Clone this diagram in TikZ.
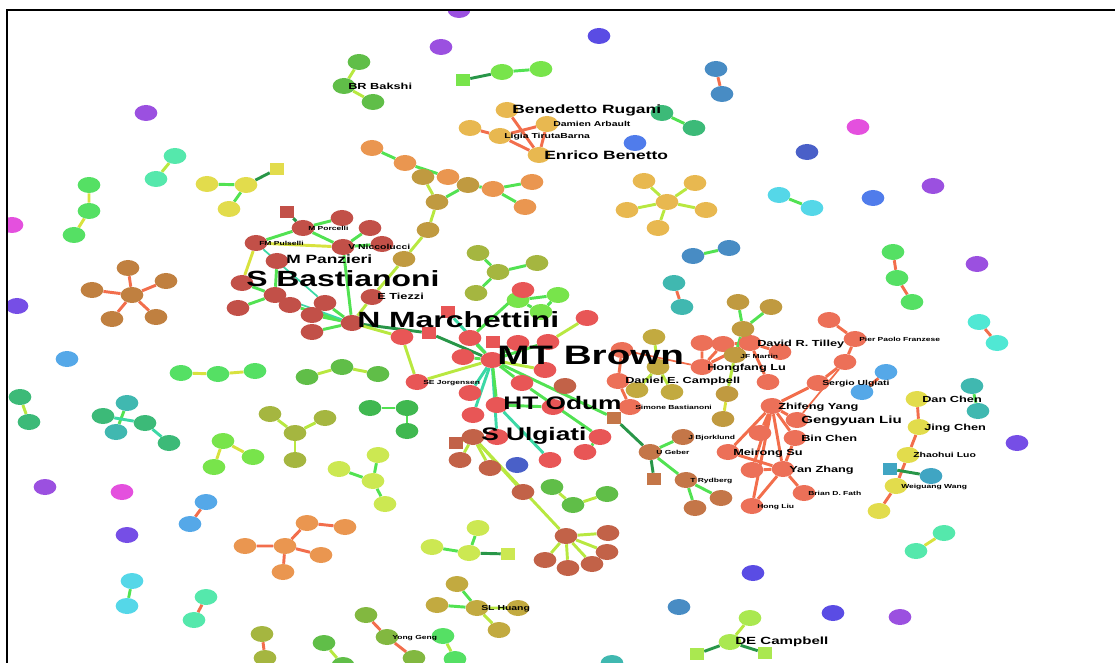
\documentclass[tikz,border=0pt]{standalone}
\usepackage{fontspec}
\newfontfamily\netfont[FakeStretch=1.45]{Liberation Sans}
\usepackage{tikz}
\usetikzlibrary{shapes.geometric, backgrounds}

\definecolor{dotpurple}{RGB}{155,80,224}
\definecolor{dotmagenta}{RGB}{228,80,222}
\definecolor{dotviolet}{RGB}{118,78,230}
\definecolor{dotindigo}{RGB}{90,76,228}
\definecolor{dotnavy}{RGB}{74,96,200}
\definecolor{dotblue}{RGB}{80,124,235}
\definecolor{dotsky}{RGB}{85,168,232}
\definecolor{dotsteel}{RGB}{72,140,196}
\definecolor{dotpetrol}{RGB}{64,165,195}
\definecolor{dotcyan}{RGB}{85,215,232}
\definecolor{dotaqua}{RGB}{80,232,212}
\definecolor{dotmint}{RGB}{85,232,172}
\definecolor{dotteal}{RGB}{64,184,176}
\definecolor{dotjade}{RGB}{60,186,120}
\definecolor{dotgreen}{RGB}{85,224,100}
\definecolor{dotforest}{RGB}{64,184,80}
\definecolor{dotleaf}{RGB}{96,190,72}
\definecolor{dotlime}{RGB}{120,228,75}
\definecolor{dotchart}{RGB}{170,232,80}
\definecolor{dotpear}{RGB}{204,232,82}
\definecolor{dotyellow}{RGB}{226,220,76}
\definecolor{dotmoss}{RGB}{130,184,64}
\definecolor{dotolive}{RGB}{165,182,64}
\definecolor{dotkhaki}{RGB}{194,170,64}
\definecolor{dotgold}{RGB}{232,184,80}
\definecolor{dotorange}{RGB}{234,150,80}
\definecolor{dotochre}{RGB}{192,154,64}
\definecolor{dotbrown}{RGB}{192,128,64}
\definecolor{dotcopper}{RGB}{196,118,72}
\definecolor{dotrust}{RGB}{194,98,72}
\definecolor{dotmaroon}{RGB}{194,80,72}
\definecolor{dotred}{RGB}{232,86,86}
\definecolor{dotsalmon}{RGB}{236,112,88}
\definecolor{linklime}{RGB}{184,232,64}
\definecolor{linkgreen}{RGB}{82,226,82}
\definecolor{linkdark}{RGB}{40,150,72}
\definecolor{linkteal}{RGB}{60,216,166}
\definecolor{linkorange}{RGB}{242,110,76}
\definecolor{linkyellow}{RGB}{216,226,62}

\begin{document}
\begin{tikzpicture}[x=0.75pt, y=-0.75pt,
    dot/.style={ellipse, minimum width=17pt, minimum height=12pt, inner sep=0pt},
    sqdot/.style={rectangle, minimum width=10.5pt, minimum height=9pt, inner sep=0pt},
    link/.style={line width=2.2pt},
    thinlink/.style={line width=1.3pt},
    author/.style={anchor=base west, inner sep=0pt},
    namexl/.style={author, yshift=-7.2pt, font=\netfont\bfseries\fontsize{20}{20}\selectfont},
    namel/.style={author, yshift=-5.9pt, font=\netfont\bfseries\fontsize{16.5}{16.5}\selectfont},
    namem/.style={author, yshift=-4.9pt, font=\netfont\bfseries\fontsize{13.6}{13.6}\selectfont},
    names/.style={author, yshift=-3.2pt, font=\netfont\bfseries\fontsize{9}{9}\selectfont},
    namet/.style={author, yshift=-2.4pt, font=\netfont\bfseries\fontsize{6.6}{6.6}\selectfont},
    nametb/.style={author, yshift=-2.8pt, font=\netfont\bfseries\fontsize{7.8}{7.8}\selectfont},
    namexs/.style={author, yshift=-1.9pt, font=\netfont\bfseries\fontsize{5.4}{5.4}\selectfont},
    namexxs/.style={author, yshift=-1.6pt, font=\netfont\bfseries\fontsize{4.4}{4.4}\selectfont}
]
\useasboundingbox (0,0) rectangle (1115,663);

\begin{scope}
\clip (7,10) rectangle (1115,663);
% left side
\node[dot, fill=dotpurple] (p1) at (146,113) {};
\node[dot, fill=dotmint] (tq1) at (175,156) {};
\node[dot, fill=dotmint] (tq2) at (156,179) {};
\node[dot, fill=dotgreen] (g1) at (89,185) {};
\node[dot, fill=dotgreen] (g2) at (89,211) {};
\node[dot, fill=dotgreen] (g3) at (74,235) {};
\node[dot, fill=dotyellow] (y1) at (207,184) {};
\node[dot, fill=dotyellow] (y2) at (246,185) {};
\node[dot, fill=dotyellow] (y3) at (229,209) {};
\node[sqdot, fill=dotyellow] (ysq) at (277,169) {};
\node[dot, fill=dotmagenta] (m1) at (12,225) {};
\node[dot, fill=dotbrown] (bc) at (132,295) {};
\node[dot, fill=dotbrown] (bs1) at (128,268) {};
\node[dot, fill=dotbrown] (bs2) at (92,290) {};
\node[dot, fill=dotbrown] (bs3) at (166,281) {};
\node[dot, fill=dotbrown] (bs4) at (112,319) {};
\node[dot, fill=dotbrown] (bs5) at (156,317) {};
\node[dot, fill=dotviolet] (v1) at (17,306) {};
\node[dot, fill=dotsky] (s1) at (67,359) {};
\node[dot, fill=dotgreen] (gg1) at (181,373) {};
\node[dot, fill=dotgreen] (gg2) at (218,374) {};
\node[dot, fill=dotgreen] (gg3) at (255,371) {};
\node[dot, fill=dotjade] (tt1) at (20,397) {};
\node[dot, fill=dotjade] (tt2) at (29,422) {};
\node[dot, fill=dotteal] (x1) at (127,403) {};
\node[dot, fill=dotjade] (x2) at (103,416) {};
\node[dot, fill=dotteal] (x3) at (116,432) {};
\node[dot, fill=dotjade] (x4) at (145,423) {};
\node[dot, fill=dotjade] (x5) at (169,443) {};
\node[dot, fill=dotlime] (l1) at (223,441) {};
\node[dot, fill=dotlime] (l2) at (253,457) {};
\node[dot, fill=dotlime] (l3) at (214,467) {};
\node[dot, fill=dotpurple] (p2) at (45,487) {};
\node[dot, fill=dotmagenta] (mg2) at (122,492) {};
\node[dot, fill=dotviolet] (v2) at (127,535) {};
\node[dot, fill=dotsky] (sk1) at (206,502) {};
\node[dot, fill=dotsky] (sk2) at (190,524) {};
\node[dot, fill=dotcyan] (cy1) at (132,581) {};
\node[dot, fill=dotcyan] (cy2) at (127,606) {};
\node[dot, fill=dotmint] (mn1) at (206,597) {};
\node[dot, fill=dotmint] (mn2) at (194,620) {};
\node[dot, fill=dotolive] (ol1) at (262,634) {};
\node[dot, fill=dotolive] (ol2) at (265,658) {};
\node[dot, fill=dotorange] (or1) at (245,546) {};
\node[dot, fill=dotorange] (or2) at (285,546) {};
\node[dot, fill=dotorange] (or3) at (307,523) {};
\node[dot, fill=dotorange] (or4) at (345,527) {};
\node[dot, fill=dotorange] (or5) at (321,555) {};
\node[dot, fill=dotorange] (or6) at (283,572) {};
\node[dot, fill=dotolive] (og1) at (270,414) {};
\node[dot, fill=dotolive] (og2) at (295,433) {};
\node[dot, fill=dotolive] (og3) at (325,418) {};
\node[dot, fill=dotolive] (og4) at (295,460) {};
\node[dot, fill=dotleaf] (dg1) at (307,377) {};
\node[dot, fill=dotleaf] (dg2) at (342,367) {};
\node[dot, fill=dotleaf] (dg3) at (378,374) {};
\node[dot, fill=dotforest] (dh1) at (370,408) {};
\node[dot, fill=dotforest] (dh2) at (407,408) {};
\node[dot, fill=dotforest] (dh3) at (407,431) {};
\node[dot, fill=dotpear] (pe1) at (339,469) {};
\node[dot, fill=dotpear] (pe2) at (378,455) {};
\node[dot, fill=dotpear] (pe3) at (373,481) {};
\node[dot, fill=dotpear] (pe4) at (385,504) {};
\node[dot, fill=dotpear] (pq1) at (432,547) {};
\node[dot, fill=dotpear] (pq2) at (478,528) {};
\node[dot, fill=dotpear] (pq3) at (469,553) {};
\node[sqdot, fill=dotpear] (pqs) at (508,554) {};
\node[dot, fill=dotkhaki] (sl1) at (457,584) {};
\node[dot, fill=dotkhaki] (sl2) at (437,605) {};
\node[dot, fill=dotkhaki] (slh) at (477,608) {};
\node[dot, fill=dotkhaki] (sl3) at (518,608) {};
\node[dot, fill=dotkhaki] (sl4) at (499,630) {};
\node[dot, fill=dotmoss] (yg1) at (366,615) {};
\node[dot, fill=dotmoss] (ygg) at (387,637) {};
\node[dot, fill=dotmoss] (yg2) at (414,658) {};
\node[dot, fill=dotgreen] (bg1) at (443,636) {};
\node[dot, fill=dotgreen] (bg2) at (455,659) {};
\node[dot, fill=dotleaf] (lg1) at (324,643) {};
\node[dot, fill=dotleaf] (lg2) at (343,665) {};
% top
\node[dot, fill=dotpurple] (p3) at (441,47) {};
\node[dot, fill=dotpurple] (p4) at (459,10) {};
\node[dot, fill=dotleaf] (br1) at (359,62) {};
\node[dot, fill=dotleaf] (brb) at (344,86) {};
\node[dot, fill=dotleaf] (br2) at (373,102) {};
\node[sqdot, fill=dotlime] (lsq) at (463,80) {};
\node[dot, fill=dotlime] (lm1) at (502,72) {};
\node[dot, fill=dotlime] (lm2) at (541,69) {};
\node[dot, fill=dotgold] (ben) at (507,110) {};
\node[dot, fill=dotgold] (dam) at (547,124) {};
\node[dot, fill=dotgold] (lg0) at (470,128) {};
\node[dot, fill=dotgold] (lig) at (500,136) {};
\node[dot, fill=dotgold] (enr) at (539,155) {};
\node[dot, fill=dotorange] (o1) at (372,148) {};
\node[dot, fill=dotorange] (o2) at (405,163) {};
\node[dot, fill=dotochre] (o3) at (423,177) {};
\node[dot, fill=dotorange] (o4) at (448,177) {};
\node[dot, fill=dotochre] (o5) at (468,185) {};
\node[dot, fill=dotochre] (o6) at (437,202) {};
\node[dot, fill=dotorange] (o7) at (493,189) {};
\node[dot, fill=dotorange] (o8) at (532,182) {};
\node[dot, fill=dotorange] (o9) at (525,207) {};
\node[dot, fill=dotochre] (o10) at (428,230) {};
\node[dot, fill=dotochre] (o11) at (404,259) {};
\node[dot, fill=dotindigo] (ix1) at (599,36) {};
\node[dot, fill=dotsteel] (st1) at (716,69) {};
\node[dot, fill=dotsteel] (st2) at (722,94) {};
\node[dot, fill=dotjade] (jd1) at (662,113) {};
\node[dot, fill=dotjade] (jd2) at (694,128) {};
\node[dot, fill=dotblue] (bl1) at (635,143) {};
\node[dot, fill=dotnavy] (nv1) at (807,152) {};
\node[dot, fill=dotcyan] (cy3) at (779,195) {};
\node[dot, fill=dotcyan] (cy4) at (812,208) {};
\node[dot, fill=dotgold] (gc) at (667,202) {};
\node[dot, fill=dotgold] (gs1) at (644,181) {};
\node[dot, fill=dotgold] (gs2) at (695,183) {};
\node[dot, fill=dotgold] (gs3) at (627,210) {};
\node[dot, fill=dotgold] (gs4) at (706,210) {};
\node[dot, fill=dotgold] (gs5) at (658,228) {};
\node[dot, fill=dotmagenta] (mg3) at (858,127) {};
\node[dot, fill=dotpurple] (p5) at (933,186) {};
\node[dot, fill=dotblue] (bl2) at (873,198) {};
% right side
\node[dot, fill=dotsteel] (st3) at (693,256) {};
\node[dot, fill=dotsteel] (st4) at (729,248) {};
\node[dot, fill=dotteal] (tl1) at (674,283) {};
\node[dot, fill=dotteal] (tl2) at (682,307) {};
\node[dot, fill=dotgreen] (gr1) at (893,252) {};
\node[dot, fill=dotgreen] (gr2) at (897,278) {};
\node[dot, fill=dotgreen] (gr3) at (912,302) {};
\node[dot, fill=dotpurple] (p6) at (977,264) {};
\node[dot, fill=dotaqua] (aq1) at (979,322) {};
\node[dot, fill=dotaqua] (aq2) at (997,343) {};
\node[dot, fill=dotsky] (sk3) at (886,372) {};
\node[dot, fill=dotsky] (sk4) at (862,392) {};
\node[dot, fill=dotteal] (te1) at (972,386) {};
\node[dot, fill=dotteal] (te2) at (978,411) {};
\node[dot, fill=dotyellow] (dan) at (917,399) {};
\node[dot, fill=dotyellow] (jin) at (919,427) {};
\node[dot, fill=dotyellow] (zha) at (908,455) {};
\node[dot, fill=dotyellow] (wei) at (896,486) {};
\node[dot, fill=dotyellow] (yw) at (879,511) {};
\node[sqdot, fill=dotpetrol] (tsq) at (890,469) {};
\node[dot, fill=dotpetrol] (te3) at (931,476) {};
\node[dot, fill=dotviolet] (v3) at (1017,443) {};
\node[dot, fill=dotmint] (mt1) at (944,533) {};
\node[dot, fill=dotmint] (mt2) at (916,551) {};
\node[dot, fill=dotindigo] (ix2) at (753,573) {};
\node[dot, fill=dotsteel] (sb1) at (679,607) {};
\node[dot, fill=dotindigo] (ix3) at (833,613) {};
\node[dot, fill=dotpurple] (p7) at (900,617) {};
\node[dot, fill=dotchart] (dc1) at (750,618) {};
\node[dot, fill=dotchart] (dec) at (730,642) {};
\node[sqdot, fill=dotchart] (dsq1) at (697,654) {};
\node[sqdot, fill=dotchart] (dsq2) at (765,653) {};
\node[dot, fill=dotteal] (tl3) at (612,663) {};
% Zhifeng Yang group
\node[dot, fill=dotsalmon] (z1) at (829,320) {};
\node[dot, fill=dotsalmon] (ppf) at (855,339) {};
\node[dot, fill=dotsalmon] (z2) at (845,362) {};
\node[dot, fill=dotsalmon] (sug) at (818,383) {};
\node[dot, fill=dotsalmon] (zfy) at (772,406) {};
\node[dot, fill=dotsalmon] (gyl) at (797,420) {};
\node[dot, fill=dotsalmon] (z3) at (760,433) {};
\node[dot, fill=dotsalmon] (bch) at (795,438) {};
\node[dot, fill=dotsalmon] (mrs) at (728,452) {};
\node[dot, fill=dotsalmon] (z4) at (752,470) {};
\node[dot, fill=dotsalmon] (yzh) at (783,469) {};
\node[dot, fill=dotsalmon] (bdf) at (804,493) {};
\node[dot, fill=dotsalmon] (hl) at (752,506) {};
% Tilley group
\node[dot, fill=dotsalmon] (ta) at (702,343) {};
\node[dot, fill=dotsalmon] (tb) at (723,344) {};
\node[dot, fill=dotsalmon] (til) at (750,343) {};
\node[dot, fill=dotsalmon] (tc) at (780,352) {};
\node[dot, fill=dotsalmon] (hfl) at (702,367) {};
\node[dot, fill=dotsalmon] (td) at (768,382) {};
\node[dot, fill=dotochre] (jb1) at (738,302) {};
\node[dot, fill=dotochre] (jb2) at (771,307) {};
\node[dot, fill=dotochre] (jb3) at (743,329) {};
\node[dot, fill=dotochre] (jfm) at (735,355) {};
\node[dot, fill=dotochre] (jb4) at (727,394) {};
\node[dot, fill=dotochre] (jb5) at (723,419) {};
\node[dot, fill=dotkhaki] (cp1) at (654,337) {};
\node[dot, fill=dotkhaki] (cp2) at (658,367) {};
\node[dot, fill=dotkhaki] (cp3) at (637,390) {};
\node[dot, fill=dotkhaki] (cp4) at (672,392) {};
\node[dot, fill=dotsalmon] (dce0) at (622,350) {};
\node[dot, fill=dotsalmon] (dce) at (618,381) {};
\node[dot, fill=dotsalmon] (sbas) at (630,407) {};
% U Geber group
\node[sqdot, fill=dotcopper] (gsq) at (614,418) {};
\node[dot, fill=dotcopper] (geb) at (650,452) {};
\node[dot, fill=dotcopper] (bjo) at (683,437) {};
\node[sqdot, fill=dotcopper] (gsq2) at (654,479) {};
\node[dot, fill=dotcopper] (ryd) at (686,480) {};
\node[dot, fill=dotcopper] (ry1) at (695,508) {};
\node[dot, fill=dotcopper] (ry2) at (721,498) {};
% Bastianoni group
\node[sqdot, fill=dotmaroon] (sq4) at (287,212) {};
\node[dot, fill=dotmaroon] (mpo) at (303,228) {};
\node[dot, fill=dotmaroon] (n1) at (342,218) {};
\node[dot, fill=dotmaroon] (n2) at (370,228) {};
\node[dot, fill=dotmaroon] (vni) at (343,247) {};
\node[dot, fill=dotmaroon] (n3) at (382,244) {};
\node[dot, fill=dotmaroon] (fmp) at (256,243) {};
\node[dot, fill=dotmaroon] (mpa) at (277,261) {};
\node[dot, fill=dotmaroon] (sbn) at (242,283) {};
\node[dot, fill=dotmaroon] (n4) at (275,295) {};
\node[dot, fill=dotmaroon] (n5) at (238,308) {};
\node[dot, fill=dotmaroon] (n6) at (290,305) {};
\node[dot, fill=dotmaroon] (n7) at (325,303) {};
\node[dot, fill=dotmaroon] (n8) at (312,315) {};
\node[dot, fill=dotmaroon] (n9) at (312,332) {};
\node[dot, fill=dotmaroon] (nm) at (352,323) {};
\node[dot, fill=dotmaroon] (eti) at (372,297) {};
% Brown group
\node[dot, fill=dotolive] (og5) at (478,253) {};
\node[dot, fill=dotolive] (og6) at (498,272) {};
\node[dot, fill=dotolive] (og7) at (537,263) {};
\node[dot, fill=dotolive] (og8) at (476,293) {};
\node[dot, fill=dotlime] (lm3) at (558,295) {};
\node[dot, fill=dotlime] (lm4) at (518,300) {};
\node[dot, fill=dotlime] (lm5) at (541,312) {};
\node[dot, fill=dotred] (r1) at (523,290) {};
\node[dot, fill=dotred] (r2) at (587,318) {};
\node[dot, fill=dotred] (r3) at (402,337) {};
\node[sqdot, fill=dotred] (sq1) at (429,333) {};
\node[sqdot, fill=dotred] (sq2) at (448,312) {};
\node[sqdot, fill=dotred] (sq3) at (493,342) {};
\node[dot, fill=dotred] (r4) at (470,338) {};
\node[dot, fill=dotred] (r5) at (463,357) {};
\node[dot, fill=dotred] (r16) at (518,343) {};
\node[dot, fill=dotred] (mt) at (492,360) {};
\node[dot, fill=dotred] (sej) at (417,382) {};
\node[dot, fill=dotred] (r6) at (470,393) {};
\node[dot, fill=dotred] (r7) at (473,415) {};
\node[dot, fill=dotred] (hto) at (497,405) {};
\node[dot, fill=dotred] (r8) at (522,383) {};
\node[dot, fill=dotred] (r9) at (545,370) {};
\node[dot, fill=dotred] (r10) at (548,342) {};
\node[dot, fill=dotrust] (brn) at (565,386) {};
\node[dot, fill=dotred] (r11) at (553,407) {};
\node[dot, fill=dotred] (r12) at (600,437) {};
\node[dot, fill=dotred] (r13) at (585,452) {};
\node[dot, fill=dotred] (r14) at (550,460) {};
\node[dot, fill=dotnavy] (nv2) at (517,465) {};
\node[dot, fill=dotred] (sul) at (497,437) {};
\node[sqdot, fill=dotrust] (sqb) at (456,443) {};
\node[dot, fill=dotrust] (b1) at (473,437) {};
\node[dot, fill=dotrust] (b2) at (460,460) {};
\node[dot, fill=dotrust] (b3) at (490,468) {};
\node[dot, fill=dotrust] (b4) at (523,492) {};
\node[dot, fill=dotleaf] (gn1) at (552,487) {};
\node[dot, fill=dotleaf] (gn2) at (573,505) {};
\node[dot, fill=dotleaf] (gn3) at (607,494) {};
\node[dot, fill=dotrust] (bc2) at (566,536) {};
\node[dot, fill=dotrust] (bk1) at (608,533) {};
\node[dot, fill=dotrust] (bk2) at (607,552) {};
\node[dot, fill=dotrust] (bk3) at (592,564) {};
\node[dot, fill=dotrust] (bk4) at (568,568) {};
\node[dot, fill=dotrust] (bk5) at (545,560) {};
\end{scope}

% links behind the authors
\begin{scope}[on background layer]
\clip (7,10) rectangle (1115,663);
\draw[link, linklime] (tq1) -- (tq2);
\draw[link, linkyellow] (g1) -- (g2) -- (g3);
\draw[link, linkgreen] (y1) -- (y2) -- (y3);
\draw[link, linkdark] (y2) -- (ysq);
\foreach \b in {bs1,bs2,bs3,bs4,bs5} \draw[link, linkorange] (bc) -- (\b);
\draw[link, linkyellow] (gg1) -- (gg2) -- (gg3);
\draw[link, linklime] (tt1) -- (tt2);
\draw[link, linkgreen] (x1) -- (x3);
\draw[link, linkteal] (x2) -- (x4) -- (x5);
\draw[link, linkyellow] (l3) -- (l1) -- (l2);
\draw[link, linkorange] (sk1) -- (sk2);
\draw[link, linkgreen] (cy1) -- (cy2);
\draw[link, linkorange] (mn1) -- (mn2);
\draw[link, linkorange] (ol1) -- (ol2);
\draw[link, linkorange] (or1) -- (or2) -- (or3) -- (or4);
\draw[link, linkorange] (or5) -- (or2) -- (or6);
\draw[link, linklime] (og1) -- (og2) -- (og3);
\draw[link, linklime] (og2) -- (og4);
\draw[link, linklime] (dg1) -- (dg2) -- (dg3);
\draw[link, linkgreen] (dh1) -- (dh2) -- (dh3);
\draw[link, linkgreen] (pe1) -- (pe3) -- (pe2);
\draw[link, linkgreen] (pe3) -- (pe4);
\draw[link, linkgreen] (pq1) -- (pq3) -- (pq2);
\draw[link, linkdark] (pq3) -- (pqs);
\draw[link, linkgreen] (sl1) -- (slh) -- (sl2);
\draw[link, linklime] (sl3) -- (slh) -- (sl4);
\draw[link, linkorange] (yg1) -- (ygg) -- (yg2);
\draw[link, linklime] (bg1) -- (bg2);
\draw[link, linklime] (lg1) -- (lg2);
\draw[link, linklime] (br1) -- (brb) -- (br2);
\draw[link, linkdark] (lsq) -- (lm1);
\draw[link, linkgreen] (lm1) -- (lm2);
\draw[link, linkorange] (ben) -- (enr) -- (dam) -- (lig) -- (enr);
\draw[link, linkorange] (lg0) -- (lig);
\draw[link, linkgreen] (o1) -- (o2) -- (o4);
\draw[link, linklime] (o3) -- (o6);
\draw[link, linkgreen] (o6) -- (o5) -- (o7) -- (o8);
\draw[link, linkgreen] (o7) -- (o9);
\draw[link, linklime] (o6) -- (o10) -- (o11) -- (eti);
\draw[link, linkorange] (st1) -- (st2);
\draw[link, linkgreen] (jd1) -- (jd2);
\draw[link, linkgreen] (cy3) -- (cy4);
\foreach \g in {gs1,gs2,gs3,gs4,gs5} \draw[link, linklime] (gc) -- (\g);
\draw[link, linkgreen] (st3) -- (st4);
\draw[link, linkorange] (tl1) -- (tl2);
\draw[link, linkorange] (gr1) -- (gr2) -- (gr3);
\draw[link, linkorange] (aq1) -- (aq2);
\draw[link, linkorange] (sk3) -- (sk4);
\draw[link, linkgreen] (te1) -- (te2);
\draw[link, linkorange] (dan) -- (jin) -- (zha) -- (wei) -- (yw);
\draw[link, linkdark] (tsq) -- (te3);
\draw[link, linkyellow] (mt1) -- (mt2);
\draw[link, linklime] (dc1) -- (dec);
\draw[link, linkdark] (dsq1) -- (dec) -- (dsq2);
% Zhifeng Yang group
\draw[link, linkorange] (z1) -- (ppf) -- (z2) -- (sug) -- (zfy);
\draw[thinlink, linkorange] (z2) -- (gyl);
\foreach \z in {gyl,z3,bch,mrs,z4,yzh,hl} \draw[link, linkorange] (zfy) -- (\z);
\foreach \z in {mrs,z4,hl,bdf,bch} \draw[link, linkorange] (yzh) -- (\z);
% Tilley group
\draw[link, linkorange] (ta) -- (tb) -- (til) -- (tc);
\draw[link, linkorange] (ta) -- (hfl) -- (tb);
\draw[link, linkorange] (hfl) -- (til) -- (td);
\draw[link, linkgreen] (jb1) -- (jb3) -- (jb2);
\draw[link, linkgreen] (jb3) -- (jfm);
\draw[link, linklime] (jfm) -- (jb4);
\draw[link, linkyellow] (jb4) -- (jb5);
\draw[link, linklime] (cp1) -- (cp2) -- (cp3);
\draw[link, linklime] (cp2) -- (cp4);
\draw[thinlink, linkorange] (dce0) -- (hfl);
\draw[link, linkorange] (dce0) -- (dce) -- (sbas);
% U Geber group
\draw[link, linkgreen] (mt) -- (gsq);
\draw[link, linkdark] (gsq) -- (geb) -- (gsq2);
\draw[link, linkgreen] (bjo) -- (geb) -- (ryd) -- (ry1);
\draw[link, linkgreen] (ryd) -- (ry2);
% Bastianoni group
\draw[link, linkdark] (sq4) -- (mpo);
\draw[link, linkgreen] (fmp) -- (mpo) -- (n1);
\draw[link, linkgreen] (mpo) -- (vni) -- (n2);
\draw[link, linkgreen] (vni) -- (n3);
\draw[link, linkyellow] (fmp) -- (vni);
\draw[link, linkyellow] (fmp) -- (sbn);
\draw[link, linkgreen] (sbn) -- (n4) -- (n5);
\draw[link, linkgreen] (mpa) -- (n4);
\draw[link, linkgreen] (vni) -- (nm);
\foreach \n in {n6,n7,n8,n9} \draw[link, linkgreen] (nm) -- (\n);
\draw[thinlink, linkteal] (n4) -- (nm);
\draw[thinlink, linkteal] (fmp) -- (n7);
\draw[link, linklime] (eti) -- (nm);
% MT Brown group
\draw[link, linkgreen] (og5) -- (og6) -- (og7);
\draw[link, linkgreen] (og6) -- (og8);
\draw[link, linkgreen] (lm4) -- (lm3) -- (lm5) -- (lm4);
\draw[link, linkgreen] (r1) -- (lm4);
\draw[link, linkgreen] (r1) -- (r4);
\draw[link, linkdark] (nm) -- (sq1) -- (mt);
\draw[link, linklime] (nm) -- (r3) -- (sej) -- (mt);
\draw[link, linkteal] (sq2) -- (mt);
\foreach \r in {r4,r5,r8,r10,r16} \draw[link, linkgreen] (mt) -- (\r);
\draw[link, linkteal] (mt) -- (r6);
\draw[link, linkteal] (mt) -- (r7);
\draw[link, linkteal] (mt) -- (sul);
\draw[link, linkgreen] (mt) -- (hto);
\draw[link, linklime] (mt) -- (r9);
\draw[link, linklime] (r10) -- (r2);
\draw[link, linkgreen] (hto) -- (r11);
\draw[link, linkteal] (hto) -- (r14);
\draw[link, linkgreen] (r8) -- (r12) -- (r13);
\draw[link, linklime] (sqb) -- (b1);
\draw[link, linklime] (b2) -- (b1) -- (b3);
\draw[link, linklime] (b1) -- (b4);
\draw[link, linklime] (b1) -- (bc2);
\draw[link, linklime] (gn1) -- (gn2) -- (gn3);
\foreach \k in {bk1,bk2,bk3,bk4,bk5} \draw[link, linklime] (bc2) -- (\k);
\end{scope}

% author names
\node[namexl] (tBrown) at (497,355) {MT Brown};
\node[namel] (tMarchettini) at (357,320) {N Marchettini};
\node[namel] (tBastianoni) at (246,279) {S Bastianoni};
\node[namem] (tOdum) at (503,403) {HT Odum};
\node[namem] (tUlgiati) at (481,434) {S Ulgiati};
\node[names] (tPanzieri) at (286,259) {M Panzieri};
\node[names] (tRugani) at (512,109) {Benedetto Rugani};
\node[names] (tBenetto) at (544,155) {Enrico Benetto};
\node[namet] (tBakshi) at (348,86) {BR Bakshi};
\node[namet] (tTiezzi) at (377,296) {E Tiezzi};
\node[namet] (tTilley) at (757,343) {David R. Tilley};
\node[namet] (tLu) at (707,367) {Hongfang Lu};
\node[namet] (tCampbell) at (625,380) {Daniel E. Campbell};
\node[namet] (tYang) at (778,406) {Zhifeng Yang};
\node[nametb] (tLiu) at (801,420) {Gengyuan Liu};
\node[namet] (tBinChen) at (801,438) {Bin Chen};
\node[namet] (tSu) at (733,452) {Meirong Su};
\node[namet] (tZhang) at (789,469) {Yan Zhang};
\node[namet] (tDanChen) at (922,399) {Dan Chen};
\node[namet] (tJingChen) at (924,427) {Jing Chen};
\node[nametb] (tDECampbell) at (735,641) {DE Campbell};
\node[namexs] (tArbault) at (553,124) {Damien Arbault};
\node[namexs] (tTiruta) at (504,136) {Ligia TirutaBarna};
\node[namexs] (tNiccolucci) at (348,247) {V Niccolucci};
\node[namexs] (tHuang) at (481,608) {SL Huang};
\node[namexs] (tLuo) at (913,455) {Zhaohui Luo};
\node[namexs] (tSUlgiati) at (822,383) {Sergio Ulgiati};
\node[namexxs] (tPorcelli) at (308,228) {M Porcelli};
\node[namexxs] (tPulselli) at (259,243) {FM Pulselli};
\node[namexxs] (tJorgensen) at (423,382) {SE Jorgensen};
\node[namexxs] (tMartin) at (740,356) {JF Martin};
\node[namexxs] (tSBastianoni) at (635,407) {Simone Bastianoni};
\node[namexxs] (tFranzese) at (859,339) {Pier Paolo Franzese};
\node[namexxs] (tBjorklund) at (688,437) {J Bjorklund};
\node[namexxs] (tGeber) at (656,452) {U Geber};
\node[namexxs] (tRydberg) at (690,480) {T Rydberg};
\node[namexxs] (tFath) at (808,493) {Brian D. Fath};
\node[namexxs] (tHongLiu) at (757,506) {Hong Liu};
\node[namexxs] (tWang) at (901,486) {Weiguang Wang};
\node[namexxs] (tGeng) at (392,637) {Yong Geng};

% frame
\draw[line width=1.5pt] (7,663) -- (7,10) -- (1115,10);
\end{tikzpicture}
\end{document}
